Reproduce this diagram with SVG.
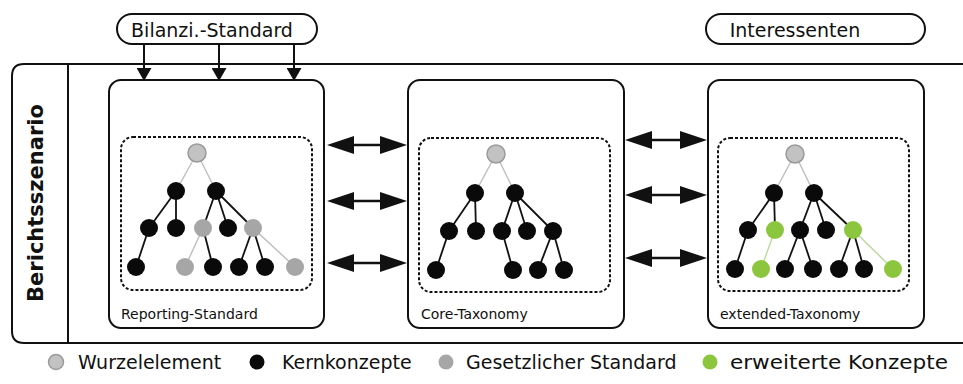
<svg xmlns="http://www.w3.org/2000/svg" width="963" height="384" viewBox="0 0 963 384">
  <style>
    .txt { font-family: "DejaVu Sans", "Liberation Sans", sans-serif; fill: #111; }
    .pill { fill: #fff; stroke: #111; stroke-width: 2; }
    .frame { fill: none; stroke: #111; stroke-width: 2; }
    .box { fill: #fff; stroke: #111; stroke-width: 2; }
    .dash { fill: none; stroke: #111; stroke-width: 2; stroke-dasharray: 3 2; }
    .e { stroke: #111; stroke-width: 1.8; }
    .eg { stroke: #bdbdbd; stroke-width: 1.4; }
    .el { stroke: #b9d99a; stroke-width: 1.4; }
    .root { fill: #c2c2c2; stroke: #9a9a9a; stroke-width: 1.5; }
    .core { fill: #0a0a0a; }
    .law { fill: #a6a6a6; }
    .ext { fill: #8cc63f; }
    .arr { stroke: #111; stroke-width: 2.5; fill: none; }
    .down { stroke: #111; stroke-width: 2; fill: none; }
  </style>
  <defs>
    <marker id="head" viewBox="0 0 27 18" refX="17" refY="9" markerWidth="27" markerHeight="18" markerUnits="userSpaceOnUse" orient="auto-start-reverse">
      <path d="M0,0 L27,9 L0,18 z" fill="#111"/>
    </marker>
    <marker id="headSmall" viewBox="0 0 13 15" refX="7" refY="7.5" markerWidth="13" markerHeight="15" markerUnits="userSpaceOnUse" orient="auto">
      <path d="M0,0 L13,7.5 L0,15 z" fill="#111"/>
    </marker>
  </defs>

  <rect width="963" height="384" fill="#fff"/>

  <!-- scenario frame with title column -->
  <g id="frame">
    <path class="frame" d="M963,64 H24 Q12,64 12,76 V331 Q12,343 24,343 H963"/>
    <line class="frame" x1="68" y1="64" x2="68" y2="343"/>
    <text class="txt" transform="translate(43,203) rotate(-90)" text-anchor="middle" font-size="21" font-weight="bold">Berichtsszenario</text>
  </g>

  <!-- external actors -->
  <g id="bilanz-standard">
    <rect class="pill" x="117" y="14" width="200" height="30" rx="15"/>
    <text class="txt" x="212" y="37" text-anchor="middle" font-size="19">Bilanzi.-Standard</text>
  </g>
  <g id="interessenten">
    <rect class="pill" x="706" y="14" width="219" height="30" rx="15"/>
    <text class="txt" x="795" y="37" text-anchor="middle" font-size="19">Interessenten</text>
  </g>

  <!-- Reporting-Standard -->
  <g id="reporting-standard">
    <rect class="box" x="109" y="80" width="215" height="248" rx="12"/>
    <rect class="dash" x="121" y="137" width="191" height="153" rx="12"/>
    <g>
      <line class="eg" x1="197" y1="153" x2="176" y2="191"/>
      <line class="eg" x1="197" y1="153" x2="216" y2="191"/>
      <line class="e" x1="176" y1="191" x2="149" y2="228"/>
      <line class="e" x1="176" y1="191" x2="176" y2="228"/>
      <line class="e" x1="216" y1="191" x2="203" y2="228"/>
      <line class="e" x1="216" y1="191" x2="228" y2="228"/>
      <line class="e" x1="216" y1="191" x2="253" y2="228"/>
      <line class="e" x1="149" y1="228" x2="136" y2="267"/>
      <line class="eg" x1="203" y1="228" x2="185" y2="267"/>
      <line class="e" x1="203" y1="228" x2="213" y2="267"/>
      <line class="e" x1="253" y1="228" x2="239" y2="267"/>
      <line class="e" x1="253" y1="228" x2="265" y2="267"/>
      <line class="eg" x1="253" y1="228" x2="295" y2="267"/>
    </g>
    <circle class="root" cx="197" cy="153" r="9"/>
    <circle class="core" cx="176" cy="191" r="9"/>
    <circle class="core" cx="216" cy="191" r="9"/>
    <circle class="core" cx="149" cy="228" r="9"/>
    <circle class="core" cx="176" cy="228" r="9"/>
    <circle class="law" cx="203" cy="228" r="9"/>
    <circle class="core" cx="228" cy="228" r="9"/>
    <circle class="law" cx="253" cy="228" r="9"/>
    <circle class="core" cx="136" cy="267" r="9"/>
    <circle class="law" cx="185" cy="267" r="9"/>
    <circle class="core" cx="213" cy="267" r="9"/>
    <circle class="core" cx="239" cy="267" r="9"/>
    <circle class="core" cx="265" cy="267" r="9"/>
    <circle class="law" cx="295" cy="267" r="9"/>
    <text class="txt" x="121" y="319" font-size="14">Reporting-Standard</text>
  </g>

  <!-- Core-Taxonomy -->
  <g id="core-taxonomy">
    <rect class="box" x="408" y="80" width="216" height="248" rx="12"/>
    <rect class="dash" x="419" y="138" width="191" height="154" rx="12"/>
    <g>
      <line class="eg" x1="496" y1="154" x2="475" y2="193"/>
      <line class="eg" x1="496" y1="154" x2="515" y2="193"/>
      <line class="e" x1="475" y1="193" x2="449" y2="231"/>
      <line class="e" x1="475" y1="193" x2="476" y2="231"/>
      <line class="e" x1="515" y1="193" x2="502" y2="231"/>
      <line class="e" x1="515" y1="193" x2="527" y2="231"/>
      <line class="e" x1="515" y1="193" x2="553" y2="231"/>
      <line class="e" x1="449" y1="231" x2="436" y2="270"/>
      <line class="e" x1="502" y1="231" x2="513" y2="270"/>
      <line class="e" x1="553" y1="231" x2="538" y2="270"/>
      <line class="e" x1="553" y1="231" x2="564" y2="270"/>
    </g>
    <circle class="root" cx="496" cy="154" r="9"/>
    <circle class="core" cx="475" cy="193" r="9"/>
    <circle class="core" cx="515" cy="193" r="9"/>
    <circle class="core" cx="449" cy="231" r="9"/>
    <circle class="core" cx="476" cy="231" r="9"/>
    <circle class="core" cx="502" cy="231" r="9"/>
    <circle class="core" cx="527" cy="231" r="9"/>
    <circle class="core" cx="553" cy="231" r="9"/>
    <circle class="core" cx="436" cy="270" r="9"/>
    <circle class="core" cx="513" cy="270" r="9"/>
    <circle class="core" cx="538" cy="270" r="9"/>
    <circle class="core" cx="564" cy="270" r="9"/>
    <text class="txt" x="421" y="319" font-size="14">Core-Taxonomy</text>
  </g>

  <!-- extended-Taxonomy -->
  <g id="extended-taxonomy">
    <rect class="box" x="708" y="80" width="216" height="248" rx="12"/>
    <rect class="dash" x="718" y="138" width="191" height="153" rx="12"/>
    <g>
      <line class="eg" x1="795" y1="154" x2="774" y2="193"/>
      <line class="eg" x1="795" y1="154" x2="814" y2="193"/>
      <line class="e" x1="774" y1="193" x2="748" y2="230"/>
      <line class="e" x1="774" y1="193" x2="775" y2="230"/>
      <line class="e" x1="814" y1="193" x2="800" y2="230"/>
      <line class="e" x1="814" y1="193" x2="826" y2="230"/>
      <line class="e" x1="814" y1="193" x2="853" y2="230"/>
      <line class="e" x1="748" y1="230" x2="735" y2="269"/>
      <line class="el" x1="775" y1="230" x2="761" y2="269"/>
      <line class="e" x1="800" y1="230" x2="785" y2="269"/>
      <line class="e" x1="800" y1="230" x2="813" y2="269"/>
      <line class="e" x1="853" y1="230" x2="839" y2="269"/>
      <line class="e" x1="853" y1="230" x2="864" y2="269"/>
      <line class="el" x1="853" y1="230" x2="893" y2="269"/>
    </g>
    <circle class="root" cx="795" cy="154" r="9"/>
    <circle class="core" cx="774" cy="193" r="9"/>
    <circle class="core" cx="814" cy="193" r="9"/>
    <circle class="core" cx="748" cy="230" r="9"/>
    <circle class="ext" cx="775" cy="230" r="9"/>
    <circle class="core" cx="800" cy="230" r="9"/>
    <circle class="core" cx="826" cy="230" r="9"/>
    <circle class="ext" cx="853" cy="230" r="9"/>
    <circle class="core" cx="735" cy="269" r="9"/>
    <circle class="ext" cx="761" cy="269" r="9"/>
    <circle class="core" cx="785" cy="269" r="9"/>
    <circle class="core" cx="813" cy="269" r="9"/>
    <circle class="core" cx="839" cy="269" r="9"/>
    <circle class="core" cx="864" cy="269" r="9"/>
    <circle class="ext" cx="893" cy="269" r="9"/>
    <text class="txt" x="720" y="319" font-size="14">extended-Taxonomy</text>
  </g>

  <!-- connectors -->
  <g id="connectors">
    <line class="down" x1="144" y1="44" x2="144" y2="75" marker-end="url(#headSmall)"/>
    <line class="down" x1="219" y1="44" x2="219" y2="75" marker-end="url(#headSmall)"/>
    <line class="down" x1="294" y1="44" x2="294" y2="75" marker-end="url(#headSmall)"/>
    <line class="arr" x1="337" y1="145" x2="397" y2="145" marker-start="url(#head)" marker-end="url(#head)"/>
    <line class="arr" x1="337" y1="201" x2="397" y2="201" marker-start="url(#head)" marker-end="url(#head)"/>
    <line class="arr" x1="337" y1="263" x2="397" y2="263" marker-start="url(#head)" marker-end="url(#head)"/>
    <line class="arr" x1="635" y1="140" x2="697" y2="140" marker-start="url(#head)" marker-end="url(#head)"/>
    <line class="arr" x1="635" y1="195" x2="697" y2="195" marker-start="url(#head)" marker-end="url(#head)"/>
    <line class="arr" x1="635" y1="258" x2="697" y2="258" marker-start="url(#head)" marker-end="url(#head)"/>
  </g>

  <!-- legend -->
  <g id="legend">
    <circle class="root" cx="56" cy="362" r="7.5"/>
    <text class="txt" x="78" y="369" font-size="19">Wurzelelement</text>
    <circle class="core" cx="257" cy="362" r="7.5"/>
    <text class="txt" x="282" y="369" font-size="19">Kernkonzepte</text>
    <circle class="law" cx="446" cy="362" r="7.5"/>
    <text class="txt" x="466" y="369" font-size="19">Gesetzlicher Standard</text>
    <circle class="ext" cx="710" cy="362" r="7.5"/>
    <text class="txt" x="730" y="369" font-size="19" textLength="218" lengthAdjust="spacingAndGlyphs">erweiterte Konzepte</text>
  </g>
</svg>
